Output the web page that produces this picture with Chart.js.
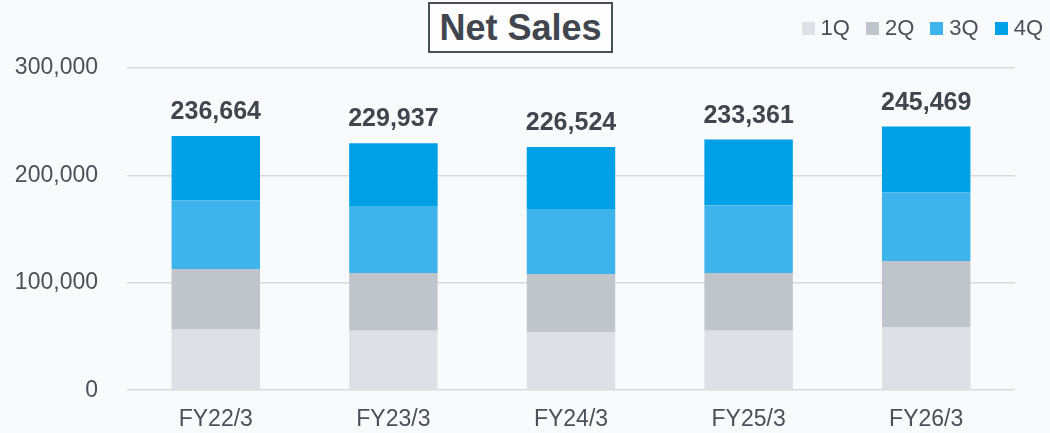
<!DOCTYPE html>
<html>
<head>
<meta charset="utf-8">
<script src="https://cdn.jsdelivr.net/npm/chart.js@4/dist/chart.umd.min.js"></script>
<style>
    html, body { margin: 0; padding: 0; }
    body {
        width: 1050px; height: 433px; overflow: hidden; position: relative;
        background: #f9fafc;
        font-family: "Liberation Sans", Arial, sans-serif;
    }
    #chart-wrap { position: absolute; left: 0; top: 0; width: 1050px; height: 433px; }
    .title-box {
        position: absolute; left: 428px; top: 2px; width: 181px; height: 47px;
        border: 2px solid #4a4f57; background: #fdfdfe;
        color: #41464e; font-weight: bold; font-size: 36px;
        line-height: 47px; text-align: center;
    }
    .legend {
        position: absolute; right: 7px; top: 15px;
        display: flex; gap: 16px; align-items: center;
        color: #4b5058; font-size: 22px;
    }
    .legend span.item { display: flex; align-items: center; gap: 6px; }
    .legend i { display: inline-block; width: 13px; height: 13px; }
</style>
</head>
<body>
<div id="chart-wrap"><canvas id="sales-chart" width="1050" height="433"></canvas></div>
<div class="title-box">Net Sales</div>
<div class="legend" id="legend"></div>

<script>
// values (units: million yen)
const years = ['FY22/3', 'FY23/3', 'FY24/3', 'FY25/3', 'FY26/3'];
const q1 = [56600, 55400, 54200, 55400, 58400];
const q2 = [56300, 53800, 54100, 53800, 61900];
const q3 = [64000, 61500, 60300, 63100, 64000];
const q4 = [59800, 59200, 57900, 61100, 61200];
const totals = [236664, 229937, 226524, 233361, 245469];
const yTicks = [0, 100000, 200000, 300000];

const quarterNames = ['1Q', '2Q', '3Q', '4Q'];
const quarterColors = ['#dfe0e5', '#c0c4cb', '#3fb4ec', '#00a0e6'];
const textColor = '#4b5058';

// html legend
document.getElementById('legend').innerHTML = quarterNames.map((q, i) =>
    `<span class="item"><i style="background:${quarterColors[i]}"></i>${q}</span>`
).join('');

// totals drawn above each stack
const totalLabels = {
    id: 'totalLabels',
    afterDatasetsDraw(chart) {
        const ctx = chart.ctx;
        const top = chart.getDatasetMeta(chart.data.datasets.length - 1);
        ctx.save();
        ctx.font = 'bold 25px "Liberation Sans", Arial, sans-serif';
        ctx.fillStyle = '#41464e';
        ctx.textAlign = 'center';
        ctx.textBaseline = 'alphabetic';
        top.data.forEach((bar, i) => {
            ctx.fillText(totals[i].toLocaleString('en-US'), bar.x, bar.y - 17);
        });
        ctx.restore();
    }
};

const series = [q1, q2, q3, q4];

new Chart(document.getElementById('sales-chart'), {
    type: 'bar',
    data: {
        labels: years,
        datasets: series.map((d, i) => ({
            label: quarterNames[i],
            data: d,
            backgroundColor: quarterColors[i],
            borderWidth: 0,
            categoryPercentage: 1,
            barPercentage: 0.498
        }))
    },
    options: {
        responsive: false,
        animation: false,
        layout: { padding: { top: 68, right: 35, left: 0, bottom: 0 } },
        plugins: {
            legend: { display: false },
            title: { display: false },
            tooltip: { enabled: false }
        },
        scales: {
            x: {
                stacked: true,
                grid: { display: false, drawTicks: false },
                border: { display: false },
                ticks: { color: textColor, font: { size: 23, family: '"Liberation Sans", Arial' }, padding: 16 },
                afterFit(s) { s.height = 38; }
            },
            y: {
                stacked: true,
                min: 0,
                max: 300000,
                afterBuildTicks(s) { s.ticks = yTicks.map(v => ({ value: v })); },
                grid: { color: '#d8d9dd', lineWidth: 1.5, drawTicks: false },
                border: { display: false },
                ticks: {
                    color: textColor,
                    font: { size: 23, family: '"Liberation Sans", Arial' },
                    padding: 29,
                    callback: v => v.toLocaleString('en-US')
                },
                afterFit(s) { s.width = 127; }
            }
        }
    },
    plugins: [totalLabels]
});
</script>
</body>
</html>
